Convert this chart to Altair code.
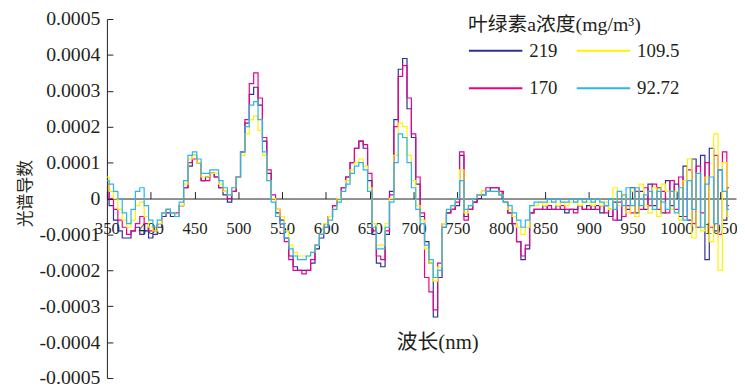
import altair as alt
import pandas as pd

# sampling grid (nm)
wavelengths = list(range(350, 1065, 5))

# first-derivative spectra, in units of 1e-5
s219 = [
    2, -2, -6, -9, -11, -11, -9, -8, -10, -9,
    -11, -10, -8, -5, -4, -5, -5, -2, 3, 9,
    12, 10, 5, 6, 7, 6, 3, 1, -1, 2,
    6, 13, 21, 29, 31, 26, 16, 7, 0, -4,
    -6, -11, -16, -19, -20, -20, -20, -18, -14, -11,
    -8, -5, -2, 0, 3, 6, 10, 14, 16, 14,
    5, -10, -18, -19, -10, 2, 22, 36, 39, 25,
    17, 4, -5, -12, -18, -33, -22, -8, -4, -3,
    -2, 12, -5, -3, -1, 0, 1, 2, 3, 3,
    1, -1, -4, -7, -12, -17, -14, -4, -3, -3,
    -2, -3, -3, -2, -3, -4, -3, -3, -2, -3,
    -2, -3, -2, -4, -2, -5, -1, -6, 1, -3,
    3, -4, 2, -3, 4, -2, 3, -4, 5, -2,
    4, -5, 9, -6, 11, -8, 12, -17, 14, -9,
    8, -6, 3,
]
s170 = [
    4, 0, -3, -6, -8, -10, -9, -7, -5, -7,
    -9, -9, -7, -4, -3, -4, -4, -2, 3, 10,
    11, 10, 5, 5, 7, 6, 3, 2, 0, 2,
    6, 13, 22, 32, 35, 28, 17, 8, 1, -3,
    -7, -12, -17, -20, -20, -21, -20, -17, -13, -10,
    -7, -5, -2, 0, 3, 6, 10, 14, 16, 15,
    7, -9, -16, -17, -9, 1, 20, 34, 37, 28,
    18, 6, -4, -22, -26, -31, -18, -7, -4, -3,
    -1, 13, -6, -3, -1, 1, 2, 3, 3, 3,
    2, -1, -4, -7, -12, -16, -13, -4, -3, -3,
    -3, -2, -3, -3, -2, -3, -3, -4, -2, -3,
    -3, -2, -3, -2, -4, -3, -6, -1, -5, -2,
    -4, 2, -3, 3, -2, 4, -3, 2, -4, 5,
    -3, 6, -5, 8, -7, 9, -4, 10, -8, 12,
    -10, 13, -2,
]
s109_5 = [
    6, 2, 0, -3, -6, -8, -6, -2, -1, -5,
    -8, -9, -7, -4, -3, -4, -5, -2, 4, 11,
    12, 10, 6, 6, 7, 7, 4, 2, 1, 3,
    6, 12, 18, 22, 23, 19, 12, 5, 0, -3,
    -5, -9, -13, -15, -16, -16, -16, -15, -13, -10,
    -7, -5, -3, 0, 2, 5, 8, 10, 11, 9,
    3, -7, -13, -13, -7, 0, 12, 21, 20, 12,
    5, -2, -6, -14, -18, -23, -19, -7, -3, -2,
    0, 8, -4, -2, 0, 1, 2, 2, 2, 2,
    1, -1, -3, -5, -8, -10, -8, -2, -2, -1,
    -2, -1, -1, -2, -1, -2, -1, -1, -2, -1,
    -1, -2, 0, -2, -1, -3, 3, -2, 1, -4,
    2, -5, 4, -2, -4, 3, -5, 4, 2, -3,
    2, -6, 5, 11, -11, 7, -9, 6, -12, 18,
    -20, 10, -5,
]
s92_72 = [
    5, 4, 2, 0, -4, -7, -3, 2, 3, -2,
    -6, -8, -6, -4, -3, -4, -5, -1, 5, 12,
    13, 11, 7, 7, 8, 8, 5, 3, 1, 3,
    6, 13, 20, 26, 27, 22, 13, 5, -1, -5,
    -7, -11, -14, -16, -17, -17, -16, -15, -13, -10,
    -8, -6, -3, -1, 2, 4, 7, 9, 10, 8,
    2, -8, -14, -14, -8, -1, 10, 18, 17, 10,
    3, -3, -7, -13, -17, -22, -20, -8, -3, -2,
    0, 5, -3, -2, 0, 1, 1, 2, 2, 2,
    1, -1, -2, -4, -6, -8, -6, -2, -1, -1,
    -1, 0, -1, 0, -1, -1, 0, -1, 0, -1,
    0, -1, 0, -1, -2, 0, -3, 2, -2, 3,
    -2, 3, -2, 1, 2, -3, 2, -1, -3, 2,
    -4, 3, -6, 5, -3, 7, -8, 4, 6, -7,
    8, 2, -3,
]

legend_order = ["219", "109.5", "170", "92.72"]
legend_colors = ["#2e3192", "#fff200", "#ec008c", "#29b6ef"]
x_ticks = [350, 400, 450, 500, 550, 600, 650, 700, 750, 800, 850, 900, 950, 1000, 1050]
y_ticks = [-0.0005, -0.0004, -0.0003, -0.0002, -0.0001, 0, 0.0001, 0.0002, 0.0003, 0.0004, 0.0005]

draw_order = [("219", s219), ("170", s170), ("109.5", s109_5), ("92.72", s92_72)]
rows = []
for name, vals in draw_order:
    assert len(vals) == len(wavelengths), (name, len(vals))
    for w, v in zip(wavelengths, vals):
        rows.append({"nm": w, "value": v * 1e-5, "series": name})
df = pd.DataFrame(rows)

W, H = 636, 363
INK = "#231f20"
SERIF = "Liberation Serif, Noto Sans CJK SC"

chart = alt.Chart(df).mark_line(interpolate="step", strokeWidth=1.2, clip=True).encode(
    x=alt.X(
        "nm:Q",
        scale=alt.Scale(domain=[350, 1068], nice=False, zero=False),
        axis=alt.Axis(
            orient="top", offset=-H / 2, values=x_ticks, format="d",
            tickSize=7, tickColor=INK, domainColor=INK, grid=False,
            labelPadding=-29, labelBaseline="top", labelFont=SERIF, labelFontSize=17,
            labelColor=INK, labelFlush=False, labelOverlap=False,
            title="波长(nm)", titleX=334, titleY=146, titleAlign="center",
            titleBaseline="middle", titleFont=SERIF, titleFontSize=21,
            titleFontWeight="normal", titleColor=INK,
        ),
    ),
    y=alt.Y(
        "value:Q",
        scale=alt.Scale(domain=[-0.0005, 0.0005], nice=False),
        axis=alt.Axis(
            orient="right", offset=-W, values=y_ticks,
            tickSize=6, tickColor=INK, domainColor=INK, grid=False,
            labelPadding=-13, labelAlign="right", labelBaseline="middle",
            labelExpr="datum.value == 0 ? '0' : (datum.value < 0 ? '-' : '') + format(abs(datum.value), '.4f')",
            labelFont=SERIF, labelFontSize=20, labelColor=INK,
            labelFlush=False, labelOverlap=False,
            title="光谱导数", titleAngle=270, titleX=-82, titleY=176,
            titleAlign="center", titleBaseline="middle", titleFont="Noto Sans CJK SC",
            titleFontSize=17, titleFontWeight="normal", titleColor=INK,
        ),
    ),
    color=alt.Color(
        "series:N",
        scale=alt.Scale(domain=legend_order, range=legend_colors),
        legend=alt.Legend(
            orient="none", legendX=365, legendY=-4, columns=2, direction="horizontal",
            symbolType="stroke", symbolSize=2916, symbolStrokeWidth=2,
            labelFont=SERIF, labelFontSize=19, labelColor=INK, labelOffset=6,
            columnPadding=15, rowPadding=-3,
            title="叶绿素a浓度(mg/m³)", titleFont=SERIF, titleFontSize=20,
            titleFontWeight="normal", titleColor=INK, titleLimit=400, titlePadding=-12,
        ),
    ),
).properties(
    width=W, height=H,
    autosize=alt.AutoSizeParams(type="none"),
    padding={"left": 100, "top": 9, "right": 1, "bottom": 14},
).configure_view(strokeWidth=0)

chart.save("out.html", embed_options={"renderer": "svg", "actions": False})
